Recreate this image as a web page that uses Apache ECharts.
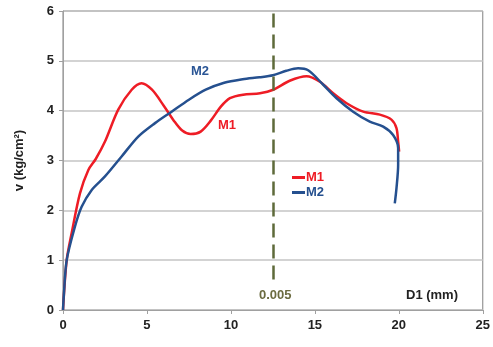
<!DOCTYPE html>
<html><head><meta charset="utf-8">
<script src="https://cdn.jsdelivr.net/npm/echarts@6/dist/echarts.min.js"></script>
<style>html,body{margin:0;padding:0;background:#fff}#c{width:493px;height:347px}</style>
</head><body><div id="c"></div>
<script>
const xTicks = [0, 5, 10, 15, 20, 25];
const yTicks = [0, 1, 2, 3, 4, 5, 6];
const m1X = [0, 0.22, 0.52, 1.01, 1.51, 1.95, 2.5, 3.29, 4.09, 4.68, 5.3, 6.0, 6.6, 7.1, 7.6, 8.2, 8.8, 9.4, 9.94, 10.73, 11.73, 12.52, 13.5, 14.5, 15.3, 16.09, 16.89, 17.88, 18.87, 19.56, 19.86, 19.96, 20.02];
const m1Y = [0, 1.0, 1.55, 2.34, 2.81, 3.03, 3.38, 4.02, 4.42, 4.55, 4.42, 4.1, 3.8, 3.6, 3.53, 3.58, 3.8, 4.08, 4.25, 4.32, 4.35, 4.42, 4.6, 4.69, 4.58, 4.35, 4.15, 3.98, 3.92, 3.82, 3.65, 3.38, 3.18];
const m2X = [0, 0.05, 0.22, 0.71, 1.11, 1.71, 2.5, 3.49, 4.48, 5.48, 6.47, 7.5, 8.5, 9.6, 10.7, 11.7, 12.5, 13.3, 14.0, 14.6, 15.5, 16.29, 17.28, 18.27, 19.07, 19.66, 19.96, 19.96, 19.86, 19.76];
const m2Y = [0, 0.3, 1.0, 1.67, 2.07, 2.41, 2.68, 3.08, 3.48, 3.75, 3.98, 4.22, 4.42, 4.56, 4.63, 4.67, 4.71, 4.8, 4.85, 4.81, 4.52, 4.25, 3.98, 3.78, 3.68, 3.51, 3.25, 2.91, 2.44, 2.14];
const refX = 12.5;
const refLabel = '0.005';
const zip = (a, b) => a.map((v, i) => [v, b[i]]);
const F = 'Liberation Sans, Arial, sans-serif';
const chart = echarts.init(document.getElementById('c'));
chart.setOption({
  animation: false,
  grid: { left: 63, top: 11, right: 10, bottom: 37, show: true, borderColor: '#808080', borderWidth: 1 },
  xAxis: {
    type: 'value', min: 0, max: 25, interval: 5,
    axisLine: { show: true, onZero: false, lineStyle: { color: '#a0a0a0', width: 1 } },
    axisTick: { show: true, length: 4, lineStyle: { color: '#a0a0a0' } },
    splitLine: { show: false },
    axisLabel: { color: '#222', fontFamily: F, fontWeight: 'bold', fontSize: 13, margin: 9 }
  },
  yAxis: {
    type: 'value', min: 0, max: 6, interval: 1,
    name: 'v (kg/cm²)', nameLocation: 'middle', nameGap: 37, nameRotate: 90,
    nameTextStyle: { color: '#222', fontFamily: F, fontWeight: 'bold', fontSize: 13 },
    axisLine: { show: true, lineStyle: { color: '#a0a0a0', width: 1 } },
    axisTick: { show: true, length: 4, lineStyle: { color: '#a0a0a0' } },
    splitLine: { show: true, lineStyle: { color: '#c4c4c4', width: 1.5 } },
    axisLabel: { color: '#222', fontFamily: F, fontWeight: 'bold', fontSize: 13, margin: 9 }
  },
  legend: {
    orient: 'vertical', left: 287, top: 166, itemGap: 2, itemWidth: 13, itemHeight: 3,
    icon: 'rect',
    textStyle: { fontFamily: F, fontWeight: 'bold', fontSize: 13, padding: [0, 0, 0, -4] },
    data: [
      { name: 'M1', textStyle: { color: '#ee1c25' } },
      { name: 'M2', textStyle: { color: '#25508f' } }
    ]
  },
  series: [
    {
      name: 'M1', type: 'line', data: zip(m1X, m1Y), smooth: 0.3, showSymbol: false,
      lineStyle: { color: '#ee1c25', width: 2.5 }, itemStyle: { color: '#ee1c25' },
      markLine: {
        symbol: 'none', silent: true,
        label: { show: false },
        lineStyle: { color: '#5e6a3a', width: 2.5, type: [14, 7] },
        data: [[{ coord: [refX, 5.95] }, { coord: [refX, 0.55] }]]
      }
    },
    {
      name: 'M2', type: 'line', data: zip(m2X, m2Y), smooth: 0.3, showSymbol: false,
      lineStyle: { color: '#25508f', width: 2.5 }, itemStyle: { color: '#25508f' }
    }
  ],
  graphic: [
    { type: 'text', left: 259, top: 289, style: { text: refLabel, fill: '#6b6b40', font: 'bold 13px ' + F } },
    { type: 'text', left: 406, top: 289, style: { text: 'D1 (mm)', fill: '#222', font: 'bold 13px ' + F } },
    { type: 'text', left: 191, top: 65, style: { text: 'M2', fill: '#2a5595', font: 'bold 13px ' + F } },
    { type: 'text', left: 218, top: 119, style: { text: 'M1', fill: '#ee1c25', font: 'bold 13px ' + F } }
  ]
});
</script></body></html>
